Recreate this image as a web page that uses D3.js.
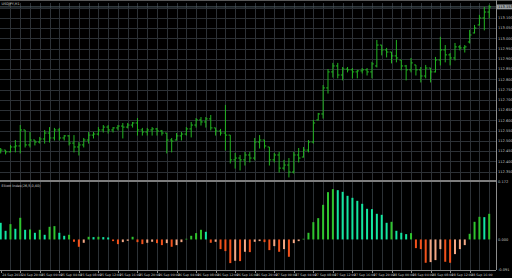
<!DOCTYPE html>
<html>
<head>
<meta charset="utf-8">
<script src="https://cdn.jsdelivr.net/npm/d3@7"></script>
<style>
html, body { margin: 0; padding: 0; background: #000; overflow: hidden; }
svg { display: block; }
text { font-family: "DejaVu Sans", sans-serif; }
</style>
</head>
<body>
<div id="chart"></div>
<script>
// Chart titles
const symbolTitle = "USDJPY,H1";
const oscTitle = "Elliott Index(26,5,0,40)";

// H1 bars (price)
const open = [112.450,112.455,112.446,112.470,112.475,112.553,112.480,112.504,112.494,112.509,
  112.538,112.514,112.553,112.514,112.524,112.489,112.470,112.480,112.504,112.528,
  112.533,112.553,112.567,112.553,112.563,112.572,112.567,112.577,112.587,112.553,
  112.543,112.553,112.558,112.548,112.538,112.504,112.504,112.524,112.533,112.558,
  112.577,112.602,112.592,112.607,112.563,112.548,112.538,112.528,112.407,112.416,
  112.407,112.431,112.416,112.494,112.504,112.470,112.407,112.431,112.367,112.382,
  112.348,112.431,112.421,112.455,112.494,112.602,112.631,112.758,112.836,112.865,
  112.821,112.850,112.846,112.836,112.841,112.846,112.836,112.865,112.967,112.943,
  112.933,112.914,112.894,112.865,112.846,112.870,112.846,112.816,112.855,112.836,
  112.894,112.943,112.919,112.904,112.958,112.953,112.982,113.026,113.065,113.099,
  113.128];
const high = [112.465,112.455,112.480,112.504,112.577,112.553,112.543,112.504,112.519,112.553,
  112.567,112.563,112.563,112.528,112.528,112.528,112.494,112.514,112.543,112.543,
  112.567,112.577,112.577,112.567,112.577,112.587,112.587,112.592,112.611,112.563,
  112.563,112.567,112.563,112.553,112.538,112.514,112.538,112.543,112.567,112.592,
  112.611,112.616,112.616,112.626,112.563,112.558,112.675,112.528,112.441,112.431,
  112.446,112.446,112.514,112.528,112.504,112.470,112.441,112.446,112.407,112.416,
  112.446,112.465,112.470,112.504,112.602,112.636,112.772,112.850,112.880,112.880,
  112.860,112.860,112.855,112.846,112.855,112.855,112.885,112.992,112.967,112.953,
  112.933,112.992,112.894,112.870,112.904,112.870,112.860,112.870,112.855,112.909,
  113.007,112.967,112.928,112.977,112.967,112.967,113.041,113.065,113.114,113.153,
  113.163];
const low = [112.441,112.436,112.446,112.446,112.441,112.470,112.470,112.480,112.489,112.489,
  112.494,112.504,112.504,112.504,112.480,112.446,112.431,112.470,112.489,112.514,
  112.528,112.543,112.538,112.543,112.553,112.514,112.563,112.567,112.528,112.528,
  112.528,112.528,112.528,112.528,112.441,112.446,112.504,112.504,112.528,112.519,
  112.567,112.577,112.567,112.553,112.528,112.528,112.455,112.392,112.367,112.358,
  112.382,112.397,112.407,112.465,112.465,112.382,112.397,112.348,112.358,112.324,
  112.343,112.397,112.421,112.446,112.489,112.602,112.611,112.733,112.811,112.807,
  112.797,112.836,112.807,112.807,112.831,112.821,112.807,112.860,112.919,112.909,
  112.880,112.885,112.846,112.797,112.836,112.821,112.787,112.807,112.787,112.836,
  112.870,112.885,112.870,112.894,112.943,112.933,112.977,113.026,113.065,113.041,
  113.099];
const close = [112.455,112.446,112.470,112.475,112.553,112.480,112.504,112.494,112.509,112.538,
  112.514,112.553,112.514,112.524,112.489,112.470,112.480,112.504,112.528,112.533,
  112.553,112.567,112.553,112.563,112.572,112.567,112.577,112.587,112.553,112.543,
  112.553,112.558,112.548,112.538,112.504,112.499,112.524,112.533,112.558,112.577,
  112.602,112.592,112.607,112.563,112.548,112.538,112.528,112.407,112.416,112.407,
  112.431,112.416,112.494,112.504,112.475,112.407,112.431,112.367,112.382,112.348,
  112.431,112.416,112.455,112.494,112.587,112.631,112.758,112.836,112.865,112.821,
  112.850,112.846,112.836,112.841,112.846,112.836,112.875,112.967,112.943,112.933,
  112.914,112.904,112.865,112.846,112.880,112.846,112.816,112.855,112.836,112.894,
  112.943,112.919,112.904,112.958,112.953,112.958,113.016,113.050,113.099,113.128,
  113.153];

// Oscillator histogram values
const osc = [0.050,0.026,0.046,0.032,0.065,0.029,0.030,0.020,0.029,0.014,
  0.038,0.040,0.020,0.011,0.014,-0.007,-0.022,-0.010,0.008,0.007,
  0.008,0.007,0.006,-0.005,-0.014,-0.008,-0.004,0.008,-0.008,-0.014,
  -0.010,-0.007,-0.011,-0.017,-0.011,-0.022,-0.017,-0.008,0.002,0.011,
  0.019,0.029,0.023,-0.010,-0.007,-0.029,-0.035,-0.071,-0.064,-0.065,
  -0.037,-0.038,-0.007,-0.005,-0.008,-0.032,-0.020,-0.037,-0.029,-0.052,
  -0.011,-0.005,0.002,0.020,0.052,0.064,0.104,0.142,0.151,0.148,
  0.143,0.131,0.125,0.116,0.107,0.092,0.091,0.077,0.074,0.050,
  0.053,0.026,0.020,0.016,0.019,-0.026,-0.029,-0.070,-0.068,-0.062,
  -0.029,-0.067,-0.070,-0.044,-0.029,-0.017,0.017,0.053,0.068,0.067,
  0.077];

// Axis labels
const priceTicks = [112.350,112.400,112.450,112.500,112.550,112.600,112.650,112.700,112.750,
  112.800,112.850,112.900,112.950,113.000,113.050,113.100,113.150];
const oscTicks = [0.172, 0.000, -0.091];
const timeLabels = ["24 Sep 2018","24 Sep 20:00","25 Sep 00:00","25 Sep 04:00","25 Sep 08:00",
  "25 Sep 12:00","25 Sep 16:00","25 Sep 20:00","26 Sep 00:00","26 Sep 04:00","26 Sep 08:00",
  "26 Sep 12:00","26 Sep 16:00","26 Sep 20:00","27 Sep 00:00","27 Sep 04:00","27 Sep 08:00",
  "27 Sep 12:00","27 Sep 16:00","27 Sep 20:00","28 Sep 00:00","28 Sep 04:00","28 Sep 08:00",
  "28 Sep 12:00","28 Sep 16:00"];

const width = 512, height = 278;
const plotRight = 496;
const mainTop = 3, mainBottom = 180, subTop = 182, subBottom = 270;
const gridColor = "#2c3136", axisColor = "#8c8c8c", labelColor = "#c4c4c4";
const barColor = "#22b422";

const svg = d3.select("#chart").append("svg")
  .attr("width", width).attr("height", height);
svg.append("rect").attr("width", width).attr("height", height).attr("fill", "#000");

// Scales
const idx = d3.range(close.length);
const x = d3.scaleLinear().domain([0, close.length - 1]).range([0.7, 489.2]);
const y = d3.scaleLinear().domain([112.309, 113.172]).range([mainBottom, mainTop]);
const yOsc = d3.scaleLinear().domain([-0.0917, 0.1725]).range([subBottom, subTop]);

// Grid
const grid = svg.append("g").attr("stroke", gridColor).attr("stroke-width", 1);
const vLines = idx.filter(i => i % 2 === 0 && i > 0);
grid.selectAll(".vm").data(vLines).enter().append("line")
  .attr("x1", d => Math.round(x(d)) + 0.5).attr("x2", d => Math.round(x(d)) + 0.5)
  .attr("y1", mainTop).attr("y2", mainBottom);
grid.selectAll(".vs").data(vLines).enter().append("line")
  .attr("x1", d => Math.round(x(d)) + 0.5).attr("x2", d => Math.round(x(d)) + 0.5)
  .attr("y1", subTop).attr("y2", subBottom);
grid.selectAll(".h").data(priceTicks).enter().append("line")
  .attr("x1", 0).attr("x2", plotRight)
  .attr("y1", d => Math.round(y(d)) + 0.5).attr("y2", d => Math.round(y(d)) + 0.5);

// Bid line
const last = close[close.length - 1];
svg.append("line")
  .attr("x1", 0).attr("x2", plotRight)
  .attr("y1", y(last)).attr("y2", y(last))
  .attr("stroke", "#4e5c64").attr("stroke-width", 1);

// OHLC bars
const bars = svg.append("g").attr("stroke", barColor).attr("stroke-width", 1);
bars.selectAll(".hl").data(idx).enter().append("line")
  .attr("x1", i => x(i)).attr("x2", i => x(i))
  .attr("y1", i => y(high[i])).attr("y2", i => y(low[i]) + 0.5);
bars.selectAll(".o").data(idx).enter().append("line")
  .attr("x1", i => x(i) - 1.8).attr("x2", i => x(i))
  .attr("y1", i => y(open[i])).attr("y2", i => y(open[i]));
bars.selectAll(".c").data(idx).enter().append("line")
  .attr("x1", i => x(i)).attr("x2", i => x(i) + 1.8)
  .attr("y1", i => y(close[i])).attr("y2", i => y(close[i]));

// Oscillator histogram
function oscColor(i) {
  const v = osc[i], p = i > 0 ? osc[i - 1] : Infinity;
  if (v >= 0) return v > p ? "#2fc42f" : "#13e6a0";
  return v < p ? "#f2521c" : "#f4a784";
}
svg.append("g").selectAll("rect").data(idx).enter().append("rect")
  .attr("x", i => x(i) - 1)
  .attr("width", 2)
  .attr("y", i => Math.min(yOsc(osc[i]), yOsc(0)))
  .attr("height", i => Math.abs(yOsc(osc[i]) - yOsc(0)))
  .attr("fill", i => oscColor(i));

// Frame lines
svg.append("line").attr("x1", 0).attr("x2", width).attr("y1", 0.5).attr("y2", 0.5)
  .attr("stroke", "#5a5a5a");
svg.append("line").attr("x1", 0).attr("x2", plotRight).attr("y1", 181).attr("y2", 181)
  .attr("stroke", "#a8a8a8").attr("stroke-width", 1.5);
svg.append("line").attr("x1", 0).attr("x2", plotRight).attr("y1", subBottom + 0.5).attr("y2", subBottom + 0.5)
  .attr("stroke", axisColor);
svg.append("line").attr("x1", plotRight + 0.5).attr("x2", plotRight + 0.5).attr("y1", 0).attr("y2", subBottom)
  .attr("stroke", axisColor);

// Price axis labels
svg.append("g").selectAll("text").data(priceTicks.slice(0, -1)).enter().append("text")
  .attr("x", plotRight + 2).attr("y", d => y(d) + 1.3)
  .attr("font-size", 3.6).attr("fill", labelColor)
  .text(d => d.toFixed(3));
svg.append("rect").attr("x", plotRight + 1).attr("y", y(last) - 2.4)
  .attr("width", width - plotRight - 1).attr("height", 4.8).attr("fill", "#9a9fa4");
svg.append("text").attr("x", plotRight + 2).attr("y", y(last) + 1.3)
  .attr("font-size", 3.6).attr("fill", "#000").text(last.toFixed(3));

// Oscillator axis labels
svg.append("g").selectAll("text").data(oscTicks).enter().append("text")
  .attr("x", plotRight + 2).attr("y", d => yOsc(d) + 1.3)
  .attr("font-size", 3.6).attr("fill", labelColor)
  .text(d => d.toFixed(3));

// Time axis
const timeAxis = svg.append("g");
timeAxis.selectAll("line").data(timeLabels).enter().append("line")
  .attr("x1", (d, k) => Math.round(x(k * 4)) + 0.5).attr("x2", (d, k) => Math.round(x(k * 4)) + 0.5)
  .attr("y1", subBottom).attr("y2", subBottom + 3)
  .attr("stroke", axisColor);
timeAxis.selectAll("text").data(timeLabels).enter().append("text")
  .attr("x", (d, k) => x(k * 4) + 1.5).attr("y", 276)
  .attr("font-size", 3.2).attr("fill", labelColor)
  .text(d => d);

// Titles
svg.append("text").attr("x", 1.5).attr("y", 4.5).attr("font-size", 3.4)
  .attr("fill", "#d0d0d0").text(symbolTitle);
svg.append("text").attr("x", 1.5).attr("y", 186.5).attr("font-size", 3.4)
  .attr("fill", "#d0d0d0").text(oscTitle);
</script>
</body>
</html>
